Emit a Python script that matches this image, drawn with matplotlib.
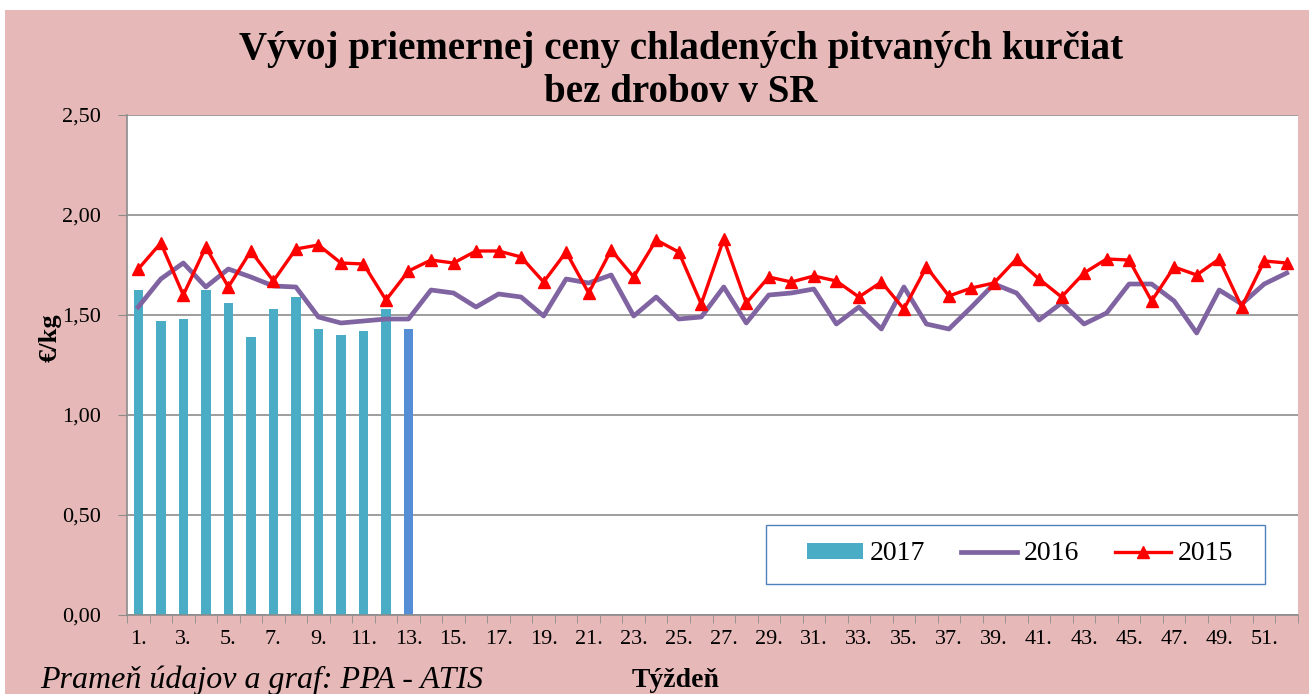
import numpy as np
import matplotlib.pyplot as plt
from matplotlib.patches import Rectangle
from matplotlib.lines import Line2D
from matplotlib.ticker import FuncFormatter

# weekly prices EUR/kg
weeks = np.arange(1, 53)
p2017 = [1.625, 1.47, 1.48, 1.625, 1.56, 1.39, 1.53, 1.59, 1.43, 1.40, 1.42, 1.53, 1.43]
p2016 = [1.54, 1.68, 1.76, 1.64, 1.73, 1.69, 1.645, 1.64, 1.49, 1.46, 1.47, 1.48, 1.48,
         1.625, 1.61, 1.54, 1.605, 1.59, 1.495, 1.68, 1.66, 1.70, 1.495, 1.59, 1.48, 1.49,
         1.64, 1.46, 1.60, 1.61, 1.63, 1.455, 1.54, 1.43, 1.64, 1.455, 1.43, 1.54, 1.655,
         1.61, 1.475, 1.56, 1.455, 1.51, 1.655, 1.655, 1.57, 1.41, 1.625, 1.555, 1.655, 1.71]
p2015 = [1.73, 1.86, 1.60, 1.84, 1.64, 1.82, 1.67, 1.83, 1.85, 1.76, 1.755, 1.575, 1.72,
         1.775, 1.76, 1.82, 1.82, 1.79, 1.665, 1.815, 1.61, 1.825, 1.69, 1.875, 1.815, 1.555,
         1.88, 1.56, 1.69, 1.665, 1.695, 1.67, 1.59, 1.665, 1.53, 1.74, 1.595, 1.635, 1.66,
         1.78, 1.68, 1.59, 1.71, 1.78, 1.775, 1.57, 1.74, 1.70, 1.78, 1.54, 1.77, 1.76]

pink = "#E6B9B8"
W, H = 1309, 694
plt.rcParams["font.family"] = ["Liberation Serif", "DejaVu Serif"]

fig = plt.figure(figsize=(W / 100, H / 100), dpi=100)
fig.patch.set_facecolor("white")
fig.patches.append(Rectangle((5 / W, 0), 1, 1 - 10 / H, transform=fig.transFigure,
                             facecolor=pink, edgecolor="none", zorder=-10))

ax = fig.add_axes([127 / W, 79 / H, 1171 / W, 500 / H])
ax.set_facecolor("white")

bar_colors = ["#4BACC6"] * (len(p2017) - 1) + ["#558ED5"]
bars = ax.bar(weeks[:len(p2017)], p2017, width=0.42, color=bar_colors, zorder=2)
ax.plot(weeks, p2016, color="#8064A2", lw=3.4, zorder=3)
ax.plot(weeks, p2015, color="#FF0000", lw=2.4, marker="^", markersize=9, zorder=4)

ax.set_xlim(0.5, 52.5)
ax.set_ylim(0, 2.5)
ax.set_yticks(np.arange(0, 2.51, 0.5))
ax.yaxis.set_major_formatter(FuncFormatter(lambda v, p: f"{v:.2f}".replace(".", ",")))
ax.grid(axis="y", color="#8C8C8C", lw=1.2, zorder=0)

ax.set_xticks(weeks[::2])
ax.set_xticklabels([f"{w}." for w in weeks[::2]])
ax.set_xticks(np.arange(0.5, 53, 1), minor=True)
ax.tick_params(axis="x", which="major", length=0, labelsize=16, pad=11)
ax.tick_params(axis="x", which="minor", length=6, color="#8C8C8C")
ax.tick_params(axis="y", length=6.5, color="#8C8C8C", labelsize=16, pad=12)

for s in ["top", "right"]:
    ax.spines[s].set_visible(False)
for s in ["left", "bottom"]:
    ax.spines[s].set_color("#8C8C8C")
    ax.spines[s].set_linewidth(1.2)

fig.text(50 / W, 1 - 338 / H, "€/kg", rotation=90, ha="center", va="center",
         fontsize=19, fontweight="bold")

fig.text(681 / W, 1 - 50 / H, "Vývoj priemernej ceny chladených pitvaných kurčiat",
         ha="center", va="center", fontsize=28, fontweight="bold")
fig.text(681 / W, 1 - 93 / H, "bez drobov v SR",
         ha="center", va="center", fontsize=28, fontweight="bold")
fig.text(40 / W, 1 - 688 / H, "Prameň údajov a graf: PPA - ATIS", fontsize=23,
         style="italic", va="baseline")
fig.text(676 / W, 1 / H, "Týždeň", ha="center", va="bottom", fontsize=20, fontweight="bold")

# legend box
fig.patches.append(Rectangle((766 / W, 1 - 584 / H), 499 / W, 59 / H, transform=fig.transFigure,
                             facecolor="white", edgecolor="#4F81BD", lw=1.0, zorder=5))
handles = [bars[0],
           Line2D([], [], color="#8064A2", lw=3.4),
           Line2D([], [], color="#FF0000", lw=2.4, marker="^", markersize=9)]
leg = fig.legend(handles, ["2017", "2016", "2015"], ncol=3, loc="center",
                 bbox_to_anchor=(1020 / W, 1 - 554 / H), fontsize=20, handlelength=2.0,
                 handleheight=0.5, handletextpad=0.25, columnspacing=1.3, frameon=False)
leg.set_zorder(6)

fig.savefig("out.png", dpi=100)
